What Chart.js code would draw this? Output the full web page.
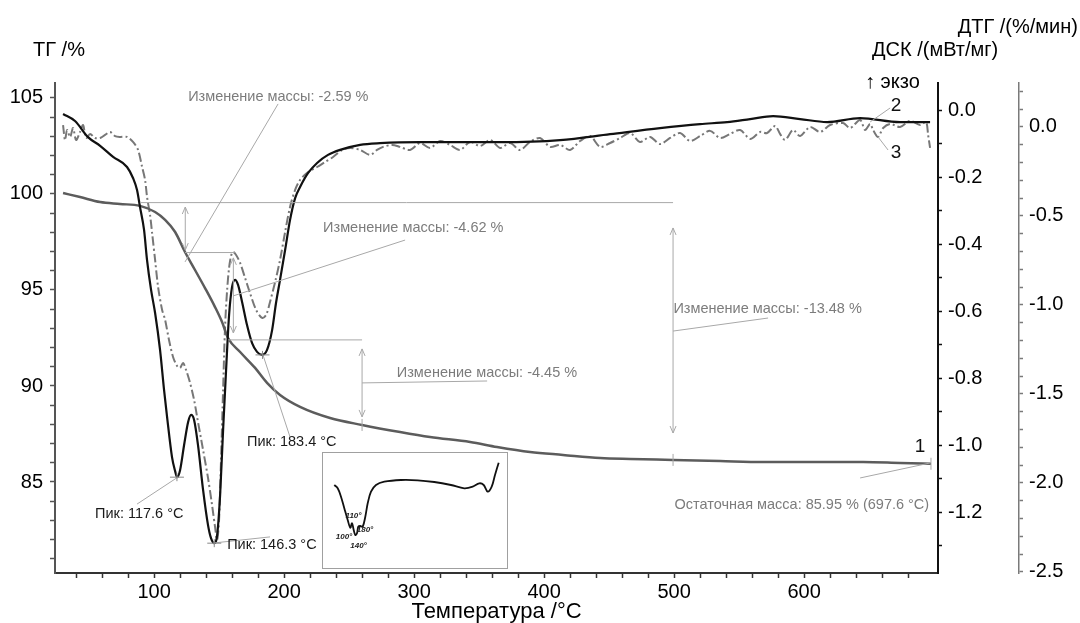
<!DOCTYPE html>
<html>
<head>
<meta charset="utf-8">
<script src="https://cdn.jsdelivr.net/npm/chart.js@4.4.1/dist/chart.umd.min.js"></script>
<style>
  body { margin: 0; background: #fff; }
  #wrap { position: relative; width: 1080px; height: 623px; }
  #inset { position: absolute; left: 322px; top: 452px; width: 184px; height: 115px; border: 1px solid #a0a0a0; background: #fff; }
  canvas { display: block; }
</style>
</head>
<body>
<div id="wrap">
  <canvas id="myChart" width="1080" height="623"></canvas>
  <div id="inset"><canvas id="insetChart" width="184" height="115"></canvas></div>
</div>
<script>
// ---- values ----
// TG curve (1): temperature /°C and mass /%
const tgTemp = [30.0, 43.1, 58.5, 73.8, 89.2, 100.8, 108.5, 116.2, 123.8, 131.5, 139.2, 146.9, 152.3, 156.9,
  166.2, 177.7, 186.9, 196.9, 212.3, 235.4, 260.0, 289.2, 312.3, 343.1, 363.8, 389.2, 414.6, 443.1, 466.2,
  499.2, 535.4, 568.5, 612.3, 645.4, 673.8, 697.6];
const tgMass = [100.05, 99.84, 99.58, 99.48, 99.38, 99.06, 98.65, 98.02, 96.98, 96.04, 95.10, 94.11, 93.33, 92.50,
  91.77, 90.94, 90.16, 89.53, 88.91, 88.33, 87.97, 87.60, 87.34, 87.08, 86.82, 86.56, 86.41, 86.25, 86.20,
  86.15, 86.09, 86.04, 86.04, 86.04, 85.99, 85.95];

// DSC curve (2): mW/mg
const dscTemp = [30.0, 39.2, 49.2, 58.5, 68.5, 79.2, 83.8, 86.9, 89.2, 92.3, 94.6, 97.7, 100.8, 104.6, 107.7,
  110.0, 113.8, 116.2, 117.7, 120.0, 123.1, 126.2, 128.5, 130.8, 133.8, 137.7, 141.5, 143.8, 146.2, 148.5,
  150.8, 153.1, 155.4, 157.7, 160.0, 162.3, 164.6, 167.7, 171.5, 175.4, 179.2, 183.1, 186.9, 190.8, 193.8,
  196.9, 200.8, 204.6, 208.5, 212.3, 218.5, 225.4, 233.8, 243.1, 258.5, 273.8, 304.6, 335.4, 366.2, 412.3,
  450.8, 489.2, 520.0, 540.8, 558.5, 576.2, 596.9, 617.7, 643.1, 673.8, 696.9];
const dscValue = [-0.012, -0.033, -0.081, -0.107, -0.140, -0.170, -0.203, -0.239, -0.290, -0.358, -0.448, -0.537,
  -0.606, -0.716, -0.836, -0.916, -1.036, -1.078, -1.096, -1.075, -1.000, -0.931, -0.910, -0.925, -1.000,
  -1.134, -1.239, -1.278, -1.293, -1.269, -1.149, -0.955, -0.776, -0.612, -0.528, -0.507, -0.522, -0.573,
  -0.642, -0.696, -0.722, -0.731, -0.716, -0.657, -0.576, -0.507, -0.418, -0.328, -0.263, -0.230, -0.188,
  -0.158, -0.134, -0.119, -0.104, -0.099, -0.096, -0.096, -0.096, -0.090, -0.072, -0.054, -0.042, -0.036,
  -0.027, -0.018, -0.027, -0.036, -0.024, -0.036, -0.036];

// DTG curve (3): %/min
const dtgTemp = [30.0, 31.5, 33.1, 35.4, 37.7, 40.0, 43.1, 45.4, 47.7, 50.8, 54.6, 58.5, 62.3, 66.2, 70.0, 73.8,
  79.2, 83.8, 87.7, 90.8, 93.1, 94.6, 96.9, 98.5, 100.8, 103.1, 106.2, 108.5, 111.5, 114.6, 117.7, 120.0,
  122.3, 124.6, 127.7, 130.8, 133.1, 137.7, 141.5, 144.6, 146.9, 148.5, 150.0, 151.5, 153.1, 154.6, 156.2,
  157.7, 159.2, 160.8, 163.1, 166.2, 170.0, 173.8, 178.5, 183.1, 186.2, 189.2, 193.1, 196.9, 200.8, 204.6,
  208.5, 212.3, 218.5, 225.4, 231.5, 237.7, 244.6, 250.8, 258.5, 266.2, 271.5, 276.2, 283.1, 289.2,
  296.9, 304.6, 312.3, 320.0, 327.7, 335.4, 343.1, 350.8, 358.5, 366.2, 373.8, 381.5, 389.2, 396.9, 404.6,
  412.3, 420.0, 427.7, 435.4, 443.1, 450.8, 458.5, 466.2, 473.8, 481.5, 489.2, 496.9, 504.6, 512.3, 520.0,
  527.7, 535.4, 543.1, 550.8, 558.5, 566.2, 571.5, 577.7, 581.5, 585.4, 591.5, 596.9, 604.6, 612.3, 620.0,
  630.0, 635.4, 643.1, 646.9, 650.8, 653.1, 656.9, 660.8, 666.2, 673.8, 681.5, 689.2, 693.8, 695.4, 696.9];
const dtgValue = [0.011, -0.073, -0.017, -0.056, -0.006, -0.073, -0.028, 0.011, -0.062, -0.039, -0.062, -0.062,
  -0.045, -0.028, -0.051, -0.056, -0.056, -0.084, -0.129, -0.225, -0.298, -0.393, -0.494, -0.596, -0.747,
  -0.899, -1.028, -1.084, -1.197, -1.292, -1.343, -1.354, -1.326, -1.365, -1.438, -1.534, -1.629, -1.815,
  -1.972, -2.124, -2.247, -2.320, -2.208, -1.871, -1.478, -1.124, -0.916, -0.792, -0.725, -0.702, -0.719,
  -0.764, -0.848, -0.933, -1.028, -1.073, -1.056, -0.983, -0.871, -0.747, -0.590, -0.449, -0.354, -0.298,
  -0.253, -0.225, -0.197, -0.169, -0.129, -0.118, -0.129, -0.157, -0.129, -0.112, -0.101, -0.112,
  -0.129, -0.090, -0.118, -0.079, -0.101, -0.129, -0.084, -0.107, -0.073, -0.118, -0.090, -0.129, -0.084,
  -0.062, -0.112, -0.101, -0.129, -0.079, -0.051, -0.112, -0.090, -0.062, -0.034, -0.084, -0.056, -0.096,
  -0.062, -0.034, -0.079, -0.051, -0.022, -0.062, -0.039, -0.017, -0.067, -0.028, -0.034, 0.006, -0.039,
  -0.073, -0.017, -0.051, 0.000, -0.028, 0.011, 0.022, -0.006, 0.039, -0.017, 0.017, -0.017, -0.056,
  -0.006, 0.017, 0.000, 0.034, 0.011, 0.028, -0.045, -0.118];

// small inset sketch (arbitrary units)
const insetX = [11.3, 14.7, 18, 21.3, 24.7, 27.3, 29, 30.7, 32.3, 34, 35.3, 37.3, 39.7, 42.3, 44.7, 48, 53, 61.3,
  78, 94.7, 111.3, 128, 141.3, 149.7, 156.3, 160.7, 164.7, 168.7, 172, 175.7];
const insetY = [83, 79.7, 71.3, 59.7, 48, 40.3, 44.7, 38, 33, 34.7, 41.3, 42, 41.3, 51.3, 64.7, 76.3, 83, 86.3,
  88, 87.7, 86, 83, 79.7, 81.3, 84.7, 83, 76.3, 81.3, 93, 105.3];
const insetLabels = [['110°', 30.5, 52.5], ['100°', 21, 31], ['180°', 42, 38.5], ['140°', 35.5, 22.5]];

const peakTemps = [117.6, 146.3, 183.4];
const peakDsc = [-1.096, -1.293, -0.731];
const massSteps = [-2.59, -4.62, -4.45, -13.48];
const residual = { mass: 85.95, temp: 697.6 };

// axis ranges
const xRange = [23.8, 703];
const xLabelMax = 600;
const tgRange = [80.26, 105.78];
const dscRange = [-1.382, 0.0806];
const dtgRange = [-2.506, 0.247];

const FONT = '"Liberation Sans", Arial, sans-serif';
const pts = (xs, ys) => xs.map((x, i) => ({ x: x, y: ys[i] }));

// annotation geometry in data units (temperature, TG %)
const notes = {
  refLines: [[99.55, 89.2, 499.2], [96.95, 123.8, 162], [92.4, 156.9, 260]],
  arrows: [[124, 99.32, 97.08], [161, 96.67, 92.76], [260, 91.93, 88.39], [499.2, 98.23, 87.55]],
  ticks: [[260, 87.97], [499.2, 86.15], [697.6, 85.95]],
  massText: [[126.2, 105.05], [230, 98.23], [286.7, 90.69], [499.5, 94.0]],
  massLeaders: [
    [195.4, 104.69, 123.8, 96.46], [293.1, 97.6, 160.8, 94.69],
    [260, 90.16, 356.2, 90.26], [499.2, 92.86, 572.3, 93.54]
  ],
  residualText: [696.2, 83.78],
  residualLeader: [643.1, 85.21, 696.9, 85.99],
  peakText: [[54.6, 83.33], [156.2, 81.72], [171.5, 87.08]],
  peakLeaders: [[86.9, 83.85, 118.5, 85.26], [145.4, 81.82, 189.2, 82.14], [204.6, 87.34, 183.8, 91.61]],
  curveNums: [['1', 689.2, 86.82], ['2', 670.8, 104.58], ['3', 670.8, 102.14]],
  numLeaders: [[666.2, 104.48, 650.8, 103.75], [664.6, 102.29, 656.9, 102.97]]
};

function line(ctx, x1, y1, x2, y2) {
  ctx.beginPath();
  ctx.moveTo(x1, y1);
  ctx.lineTo(x2, y2);
  ctx.stroke();
}

function arrowHead(ctx, x, y, dir) {
  // open V head pointing up (dir=-1) or down (dir=1)
  ctx.beginPath();
  ctx.moveTo(x - 3, y - dir * 7);
  ctx.lineTo(x, y);
  ctx.lineTo(x + 3, y - dir * 7);
  ctx.stroke();
}

const notesPlugin = {
  id: 'thermoNotes',
  afterDatasetsDraw(chart) {
    const { ctx, scales } = chart;
    const X = t => scales.x.getPixelForValue(t);
    const Y = v => scales.tg.getPixelForValue(v);
    const D = v => scales.dsc.getPixelForValue(v);
    ctx.save();
    ctx.strokeStyle = '#a8a8a8';
    ctx.lineWidth = 1;

    notes.refLines.forEach(([v, t1, t2]) => line(ctx, X(t1), Y(v), X(t2), Y(v)));
    notes.arrows.forEach(([t, v1, v2]) => {
      line(ctx, X(t), Y(v1), X(t), Y(v2));
      arrowHead(ctx, X(t), Y(v1), -1);
      arrowHead(ctx, X(t), Y(v2), 1);
    });
    notes.ticks.forEach(([t, v]) => line(ctx, X(t), Y(v) - 6, X(t), Y(v) + 6));
    notes.massLeaders.forEach(([t1, v1, t2, v2]) => line(ctx, X(t1), Y(v1), X(t2), Y(v2)));
    const r = notes.residualLeader;
    line(ctx, X(r[0]), Y(r[1]), X(r[2]), Y(r[3]));
    notes.peakLeaders.forEach(([t1, v1, t2, v2]) => line(ctx, X(t1), Y(v1), X(t2), Y(v2)));
    notes.numLeaders.forEach(([t1, v1, t2, v2]) => line(ctx, X(t1), Y(v1), X(t2), Y(v2)));

    // peak cross marks on the DSC curve
    ctx.strokeStyle = '#888';
    peakTemps.forEach((t, i) => {
      line(ctx, X(t) - 7, D(peakDsc[i]), X(t) + 7, D(peakDsc[i]));
      line(ctx, X(t), D(peakDsc[i]) - 4, X(t), D(peakDsc[i]) + 4);
    });

    ctx.textBaseline = 'middle';
    ctx.font = '14.5px ' + FONT;
    ctx.fillStyle = '#7c7c7c';
    ctx.textAlign = 'left';
    massSteps.forEach((m, i) => {
      const [t, v] = notes.massText[i];
      ctx.fillText('Изменение массы: ' + m.toFixed(2) + ' %', X(t), Y(v));
    });
    ctx.textAlign = 'right';
    ctx.fillText('Остаточная масса: ' + residual.mass.toFixed(2) + ' % (' + residual.temp.toFixed(1) + ' °C)',
      X(notes.residualText[0]), Y(notes.residualText[1]));

    ctx.fillStyle = '#1a1a1a';
    ctx.textAlign = 'left';
    peakTemps.forEach((t, i) => {
      const [tx, v] = notes.peakText[i];
      ctx.fillText('Пик: ' + t.toFixed(1) + ' °C', X(tx), Y(v));
    });

    ctx.font = '19px ' + FONT;
    ctx.textAlign = 'center';
    ctx.fillStyle = '#111';
    notes.curveNums.forEach(([s, t, v]) => ctx.fillText(s, X(t), Y(v)));
    ctx.restore();
  },
  afterDraw(chart) {
    const { ctx, scales, chartArea } = chart;
    ctx.save();
    ctx.fillStyle = '#000';
    ctx.font = '20px ' + FONT;
    ctx.textBaseline = 'middle';
    ctx.textAlign = 'left';
    ctx.fillText('ТГ /%', scales.tg.right - 22, chartArea.top - 33);
    ctx.fillText('ДСК /(мВт/мг)', scales.dsc.left - 66, chartArea.top - 33);
    ctx.fillText('↑ экзо', scales.dsc.left - 73, chartArea.top - 1);
    ctx.textAlign = 'right';
    ctx.fillText('ДТГ /(%/мин)', scales.dtg.right - 2, chartArea.top - 56);
    ctx.textAlign = 'center';
    ctx.font = '22px ' + FONT;
    ctx.fillText('Температура /°C', (chartArea.left + chartArea.right) / 2, 612);
    ctx.restore();
  }
};

function axisStyle(min, max, step, color, isMajor, fmt, tickLen, pad) {
  return {
    type: 'linear',
    min: min,
    max: max,
    grid: { drawOnChartArea: false, drawTicks: true, tickLength: tickLen, tickColor: color, tickWidth: 1.5 },
    border: { display: true, color: color, width: 2 },
    ticks: {
      stepSize: step,
      includeBounds: false,
      autoSkip: false,
      maxRotation: 0,
      padding: pad,
      color: '#000',
      font: { family: FONT, size: 20 },
      callback: v => isMajor(v) ? fmt(v) : ''
    }
  };
}

const xAxis = axisStyle(xRange[0], xRange[1], 20, '#333',
  v => Math.round(v) % 100 === 0 && v <= xLabelMax, v => String(Math.round(v)), 5, 2);
xAxis.position = 'bottom';
// the last tick next to the corner is not drawn in the reference
xAxis.grid.tickColor = c => (c.tick && c.tick.value > xLabelMax + 90) ? 'rgba(0,0,0,0)' : '#333';
xAxis.afterFit = s => { s.height = 50; };

const tgAxis = axisStyle(tgRange[0], tgRange[1], 1, '#555', v => Math.round(v) % 5 === 0, v => String(Math.round(v)), 5, 7);
tgAxis.position = 'left';
tgAxis.afterFit = s => { s.width = 55; };

const dscAxis = axisStyle(dscRange[0], dscRange[1], 0.1, '#111', v => Math.round(v * 10) % 2 === 0, v => v.toFixed(1), 4, 6);
dscAxis.position = 'right';
dscAxis.weight = 1;
dscAxis.afterFit = s => { s.width = 81; };

const dtgAxis = axisStyle(dtgRange[0], dtgRange[1], 0.1, '#7a7a7a', v => Math.round(v * 10) % 5 === 0, v => v.toFixed(1), 4, 6);
dtgAxis.position = 'right';
dtgAxis.weight = 2;
dtgAxis.border.width = 1.5;
dtgAxis.afterFit = s => { s.width = 61; };

const myChart = new Chart(document.getElementById('myChart').getContext('2d'), {
  type: 'line',
  data: {
    datasets: [
      { label: 'ДСК', data: pts(dscTemp, dscValue), yAxisID: 'dsc', borderColor: '#111', borderWidth: 2.2,
        pointRadius: 0, cubicInterpolationMode: 'monotone' },
      { label: 'ТГ', data: pts(tgTemp, tgMass), yAxisID: 'tg', borderColor: '#5c5c5c', borderWidth: 2.5,
        pointRadius: 0, cubicInterpolationMode: 'monotone' },
      { label: 'ДТГ', data: pts(dtgTemp, dtgValue), yAxisID: 'dtg', borderColor: '#777', borderWidth: 2,
        borderDash: [9, 3, 2, 3], pointRadius: 0, tension: 0.3 }
    ]
  },
  options: {
    responsive: false,
    animation: false,
    devicePixelRatio: 1,
    layout: { padding: { top: 83, left: 0, right: 0, bottom: 0 } },
    plugins: { legend: { display: false }, tooltip: { enabled: false } },
    scales: { x: xAxis, tg: tgAxis, dsc: dscAxis, dtg: dtgAxis }
  },
  plugins: [notesPlugin]
});

// inset sketch
const insetText = {
  id: 'insetText',
  afterDatasetsDraw(chart) {
    const { ctx, scales } = chart;
    ctx.save();
    ctx.font = 'italic bold 8px ' + FONT;
    ctx.fillStyle = '#222';
    ctx.textAlign = 'center';
    ctx.textBaseline = 'middle';
    insetLabels.forEach(([s, x, y]) => ctx.fillText(s, scales.x.getPixelForValue(x), scales.y.getPixelForValue(y)));
    ctx.restore();
  }
};

new Chart(document.getElementById('insetChart').getContext('2d'), {
  type: 'line',
  data: { datasets: [{ data: pts(insetX, insetY), borderColor: '#111', borderWidth: 1.8, pointRadius: 0, tension: 0.35 }] },
  options: {
    responsive: false,
    animation: false,
    devicePixelRatio: 1,
    layout: { padding: 0 },
    plugins: { legend: { display: false }, tooltip: { enabled: false } },
    scales: {
      x: { type: 'linear', display: false, min: 0, max: 184 },
      y: { type: 'linear', display: false, min: 0, max: 115 }
    }
  },
  plugins: [insetText]
});
</script>
</body>
</html>
